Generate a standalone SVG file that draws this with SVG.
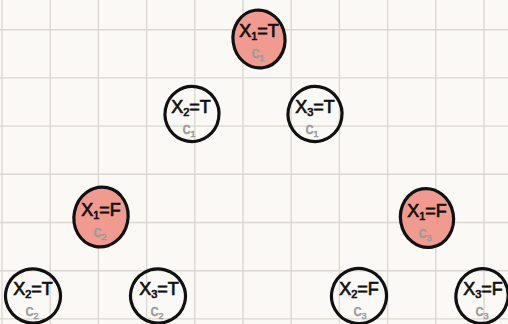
<svg xmlns="http://www.w3.org/2000/svg" width="508" height="324" viewBox="0 0 508 324">
<style>
.grid line{stroke:#dbd7d1;stroke-width:1.4}
.node{stroke:#111;stroke-width:3.2;stroke-linejoin:round}
.red{fill:#f09a90}
.white{fill:none}
.lbl{font-family:"Liberation Sans","DejaVu Sans",sans-serif;font-size:18px;fill:#111;stroke:#111;stroke-width:0.7;text-anchor:middle}
.sub{font-family:"Liberation Sans","DejaVu Sans",sans-serif;font-size:16px;fill:#9a9a9a;stroke:#9a9a9a;stroke-width:0.5;text-anchor:middle}
</style>
<rect width="508" height="324" fill="#fbf9f5"/>
<g class="grid">
<line x1="2" y1="0" x2="2" y2="324"/><line x1="50.2" y1="0" x2="50.2" y2="324"/><line x1="98.4" y1="0" x2="98.4" y2="324"/><line x1="146.6" y1="0" x2="146.6" y2="324"/><line x1="194.8" y1="0" x2="194.8" y2="324"/><line x1="243" y1="0" x2="243" y2="324"/><line x1="291.2" y1="0" x2="291.2" y2="324"/><line x1="339.4" y1="0" x2="339.4" y2="324"/><line x1="387.6" y1="0" x2="387.6" y2="324"/><line x1="435.8" y1="0" x2="435.8" y2="324"/><line x1="484" y1="0" x2="484" y2="324"/>
<line x1="0" y1="29.7" x2="508" y2="29.7"/><line x1="0" y1="77.9" x2="508" y2="77.9"/><line x1="0" y1="126.1" x2="508" y2="126.1"/><line x1="0" y1="174.3" x2="508" y2="174.3"/><line x1="0" y1="222.5" x2="508" y2="222.5"/><line x1="0" y1="270.7" x2="508" y2="270.7"/><line x1="0" y1="318.9" x2="508" y2="318.9"/>
</g>
<g id="connectors"></g>
<g id="n1">
<ellipse class="node red" cx="259" cy="39" rx="26" ry="29" transform="rotate(-8 259 39)"/>
<text class="lbl" x="259" y="37">X<tspan font-size="11" dy="3">1</tspan><tspan dy="-3">=T</tspan></text>
<text class="sub" x="258" y="58">c<tspan font-size="9" dy="3">1</tspan></text>
</g>
<g id="n2">
<ellipse class="node white" cx="192" cy="114" rx="27" ry="27.5" transform="rotate(10 192 114)"/>
<text class="lbl" x="191" y="113">X<tspan font-size="11" dy="3">2</tspan><tspan dy="-3">=T</tspan></text>
<text class="sub" x="189" y="134">c<tspan font-size="9" dy="3">1</tspan></text>
</g>
<g id="n3">
<ellipse class="node white" cx="315" cy="114" rx="27" ry="27.5" transform="rotate(10 315 114)"/>
<text class="lbl" x="315" y="113">X<tspan font-size="11" dy="3">3</tspan><tspan dy="-3">=T</tspan></text>
<text class="sub" x="312" y="134">c<tspan font-size="9" dy="3">1</tspan></text>
</g>
<g id="n4">
<ellipse class="node red" cx="101" cy="217" rx="27" ry="30" transform="rotate(12 101 217)"/>
<text class="lbl" x="101" y="216">X<tspan font-size="11" dy="3">1</tspan><tspan dy="-3">=F</tspan></text>
<text class="sub" x="100" y="237">c<tspan font-size="9" dy="3">2</tspan></text>
</g>
<g id="n5">
<ellipse class="node red" cx="427" cy="218" rx="26.5" ry="29.5" transform="rotate(-10 427 218)"/>
<text class="lbl" x="427" y="217">X<tspan font-size="11" dy="3">1</tspan><tspan dy="-3">=F</tspan></text>
<text class="sub" x="425" y="238">c<tspan font-size="9" dy="3">3</tspan></text>
</g>
<g id="n6">
<ellipse class="node white" cx="33" cy="296" rx="27.5" ry="27" transform="rotate(15 33 296)"/>
<text class="lbl" x="33" y="295">X<tspan font-size="11" dy="3">2</tspan><tspan dy="-3">=T</tspan></text>
<text class="sub" x="32" y="316">c<tspan font-size="9" dy="3">2</tspan></text>
</g>
<g id="n7">
<ellipse class="node white" cx="158" cy="296" rx="27.5" ry="27" transform="rotate(15 158 296)"/>
<text class="lbl" x="159" y="295">X<tspan font-size="11" dy="3">3</tspan><tspan dy="-3">=T</tspan></text>
<text class="sub" x="157" y="316">c<tspan font-size="9" dy="3">2</tspan></text>
</g>
<g id="n8">
<ellipse class="node white" cx="359" cy="296" rx="27.5" ry="27.5" transform="rotate(15 359 296)"/>
<text class="lbl" x="359" y="295">X<tspan font-size="11" dy="3">2</tspan><tspan dy="-3">=F</tspan></text>
<text class="sub" x="360" y="316">c<tspan font-size="9" dy="3">3</tspan></text>
</g>
<g id="n9">
<ellipse class="node white" cx="482" cy="296" rx="26" ry="27.5" transform="rotate(15 482 296)"/>
<text class="lbl" x="483" y="295">X<tspan font-size="11" dy="3">3</tspan><tspan dy="-3">=F</tspan></text>
<text class="sub" x="482" y="316">c<tspan font-size="9" dy="3">3</tspan></text>
</g>
</svg>
